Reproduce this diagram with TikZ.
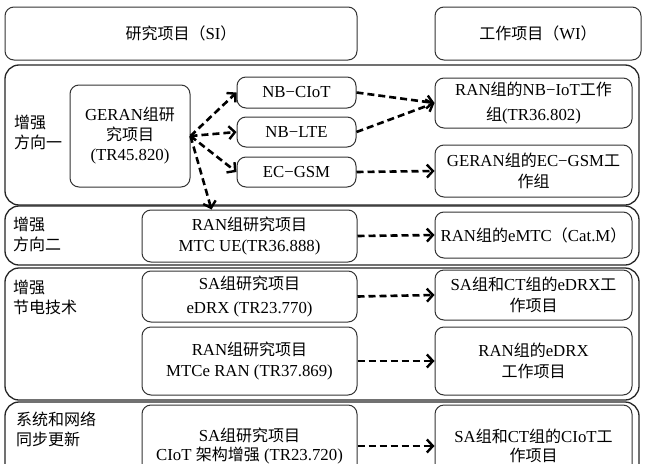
\documentclass[tikz,border=0pt]{standalone}
\usepackage{fontspec}
\setmainfont{Liberation Serif}[Scale=1.05]
\newfontfamily\cjk{Noto Sans CJK SC}
\newcommand\zh[1]{{\cjk #1}}
\usetikzlibrary{arrows.meta}
\tikzset{
  grp/.style={draw=black!85, line width=1.3pt, rounded corners=14pt, inner sep=0pt},
  box/.style={draw=black!80, line width=1pt, rounded corners=9pt, align=center, inner sep=0pt,
    font=\fontsize{16}{21}\selectfont},
  lbl/.style={anchor=west, align=left, inner sep=0pt, font=\fontsize{16}{20}\selectfont\cjk},
  arr/.style={-{Straight Barb[length=6pt,width=13pt,line width=2.4pt]}, line width=2.6pt, dash pattern=on 7pt off 4pt},
}
\begin{document}
\begin{tikzpicture}[x=1pt,y=-1pt]
\useasboundingbox (0,0) rectangle (647,463);
\clip (0,0) rectangle (647,463);
\fill[white] (0,0) rectangle (647,463);
% headers
\node[box, minimum width=352pt, minimum height=53pt] (hsi) at (181,33.5) {\zh{研究项目（}SI\zh{）}};
\node[box, minimum width=206pt, minimum height=53pt] (hwi) at (538,33.5) {\zh{工作项目（}WI\zh{）}};
% groups
\node[grp, minimum width=634pt, minimum height=140pt] (g1) at (322,135) {};
\node[grp, minimum width=634pt, minimum height=59pt] (g2) at (322,235.5) {};
\node[grp, minimum width=634pt, minimum height=132pt] (g3) at (322,334) {};
\node[grp, minimum width=634pt, minimum height=93pt] (g4) at (322,448.5) {};
% labels
\node[lbl] (l1) at (14,132) {增强\\方向一};
\node[lbl] (l2) at (13,234) {增强\\方向二};
\node[lbl] (l3) at (13,297) {增强\\节电技术};
\node[lbl] (l4) at (16,429) {系统和网络\\同步更新};
% group 1
\node[box, minimum width=120pt, minimum height=102pt, font=\fontsize{16}{20}\selectfont] (geran) at (130,136)
  {GERAN\zh{组研}\\\zh{究项目}\\(TR45.820)};
\node[box, minimum width=119pt, minimum height=31pt] (nbciot) at (296.5,92.5) {NB−CIoT};
\node[box, minimum width=119pt, minimum height=30pt] (nblte) at (296.5,132) {NB−LTE};
\node[box, minimum width=119pt, minimum height=30pt] (ecgsm) at (296.5,172) {EC−GSM};
\node[box, minimum width=197pt, minimum height=50pt, font=\fontsize{16}{25}\selectfont] (wi1) at (533.5,103)
  {RAN\zh{组的}NB−IoT\zh{工作}\\\zh{组}(TR36.802)};
\node[box, minimum width=197pt, minimum height=52pt] (wi2) at (533.5,171)
  {GERAN\zh{组的}EC−GSM\zh{工}\\\zh{作组}};
% group 2
\node[box, minimum width=215pt, minimum height=52pt] (mtcue) at (249.5,236)
  {RAN\zh{组研究项目}\\MTC UE(TR36.888)};
\node[box, minimum width=197pt, minimum height=46pt] (wi3) at (533.5,235)
  {RAN\zh{组的}eMTC\zh{（}Cat.M\zh{）}};
% group 3
\node[box, minimum width=215pt, minimum height=51pt, font=\fontsize{16}{24}\selectfont] (edrx) at (249.5,296.5)
  {SA\zh{组研究项目}\\eDRX (TR23.770)};
\node[box, minimum width=197pt, minimum height=50pt] (wi4) at (533.5,295)
  {SA\zh{组和}CT\zh{组的}eDRX\zh{工}\\\zh{作项目}};
\node[box, minimum width=215pt, minimum height=68pt] (mtce) at (249.5,361)
  {RAN\zh{组研究项目}\\MTCe RAN (TR37.869)};
\node[box, minimum width=197pt, minimum height=68pt] (wi5) at (533.5,361)
  {RAN\zh{组的}eDRX\\\zh{工作项目}};
% group 4
\node[box, minimum width=215pt, minimum height=82pt, font=\fontsize{16}{19}\selectfont] (ciot) at (249.5,446)
  {SA\zh{组研究项目}\\CIoT \zh{架构增强} (TR23.720)};
\node[box, minimum width=197pt, minimum height=82pt, font=\fontsize{16}{19}\selectfont] (wi6) at (533.5,446)
  {SA\zh{组和}CT\zh{组的}CIoT\zh{工}\\\zh{作项目}};
% arrows
\draw[arr] (geran.east) -- (nbciot.west);
\draw[arr] (geran.east) -- (nblte.west);
\draw[arr] (geran.east) -- (ecgsm.west);
\draw[arr] (geran.east) -- ([xshift=-38pt]mtcue.north);
\draw[arr] (nbciot.east) -- (wi1.west);
\draw[arr] (nblte.east) -- (wi1.west);
\draw[arr] (ecgsm.east) -- (wi2.west);
\draw[arr] (mtcue.east) -- (wi3.west);
\draw[arr] (edrx.east) -- (wi4.west);
\draw[arr] (mtce.east) -- (wi5.west);
\draw[arr] (ciot.east) -- (wi6.west);
\end{tikzpicture}
\end{document}
